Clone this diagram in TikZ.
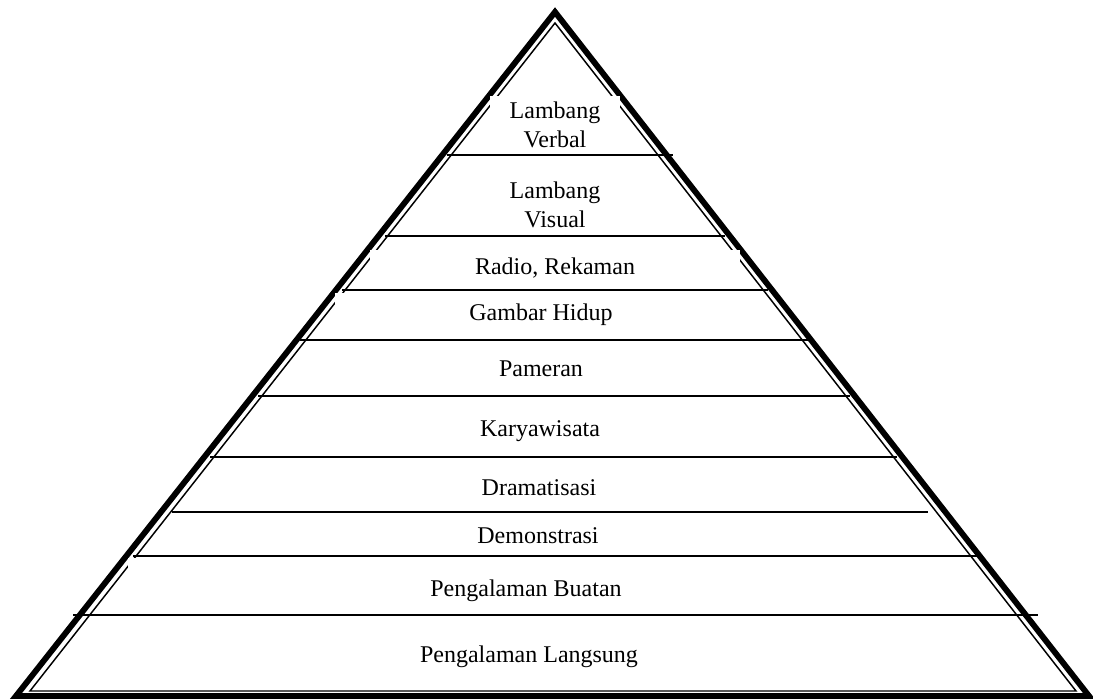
\documentclass[tikz,border=0pt]{standalone}
\usepackage{fontspec}
\setmainfont{Liberation Serif}
\usetikzlibrary{calc}

\begin{document}
\begin{tikzpicture}[x=0.75pt, y=-0.75pt,
    lapis/.style={fill=white, inner sep=0pt, align=center,
                  font=\fontsize{18}{21.75}\selectfont},
    batas/.style={line width=1.2pt}]
  \useasboundingbox (0,0) rectangle (1093,699);

  % Outer frame (thick)
  \draw[line width=4.4pt, line join=miter] (16,696) -- (555,12) -- (1089,696) -- cycle;
  % Inner frame (thin)
  \draw[line width=1.1pt, line join=miter] (30,691) -- (555,23) -- (1076,691) -- cycle;

  % Text boxes
  \node[lapis, minimum width=97.5pt, minimum height=43.5pt] (verbal) at (555,125) {Lambang\\Verbal};
  \node[lapis, minimum width=82.5pt, minimum height=43.5pt] (visual) at (555,205) {Lambang\\Visual};
  \node[lapis, minimum width=277.5pt, minimum height=27pt] (radio) at (555,268) {Radio, Rekaman};
  \node[lapis, minimum width=309pt, minimum height=33pt] (gambar) at (541,315) {Gambar Hidup};
  \node[lapis] (pameran) at (541,369) {Pameran};
  \node[lapis] (karya) at (540,431) {Karyawisata};
  \node[lapis] (drama) at (539,488) {Dramatisasi};
  \node[lapis] (demo) at (538,536) {Demonstrasi};
  \node[lapis, minimum width=597pt, minimum height=49.5pt] (buatan) at (526,591) {Pengalaman Buatan};
  \node[lapis] (langsung) at (529,657) {Pengalaman Langsung};

  % Dividers between levels
  \draw[batas] (447,155) -- (673,155);
  \draw[batas] (385,236) -- (725,236);
  \draw[batas] (342,290) -- (768,290);
  \draw[batas] (300,340) -- (810,340);
  \draw[batas] (258,396) -- (850,396);
  \draw[batas] (210,457) -- (897,457);
  \draw[batas] (172,512) -- (928,512);
  \draw[batas] (133,556) -- (977,556);
  \draw[batas] (73,615) -- (1038,615);
\end{tikzpicture}
\end{document}
